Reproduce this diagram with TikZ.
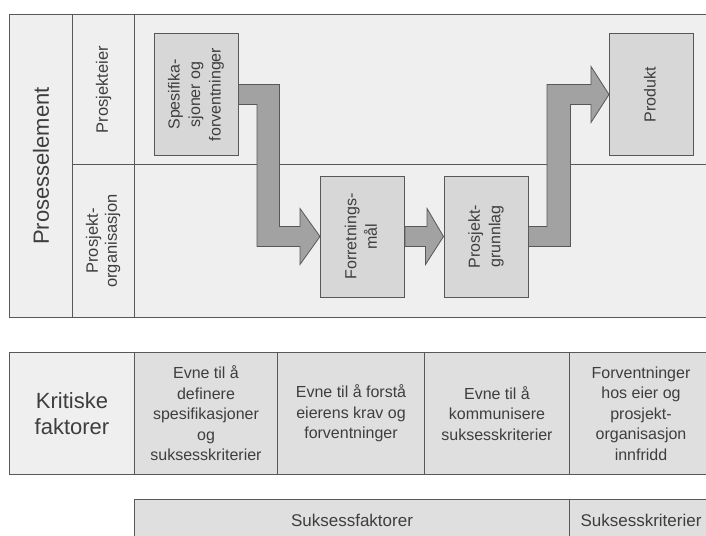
\documentclass[tikz,border=0pt]{standalone}
\usepackage{fontspec}
\setmainfont{Liberation Sans}
\usetikzlibrary{calc}

\definecolor{linegray}{RGB}{88,88,88}
\definecolor{textgray}{RGB}{62,62,62}
\definecolor{lanefill}{RGB}{239,239,239}
\definecolor{cellfill}{RGB}{223,223,223}
\definecolor{boxfill}{RGB}{215,215,215}
\definecolor{arrowfill}{RGB}{162,162,162}

\newcommand{\vlines}[1]{\rotatebox{90}{\begin{tabular}{@{}c@{}}#1\end{tabular}}}

\tikzset{every picture/.style={line width=1pt}}
\tikzset{
  cell/.style={draw=linegray, fill=lanefill, inner sep=0pt, anchor=north west, text=textgray, align=center},
  bigtext/.style={font=\fontsize{22}{26}\selectfont},
  smalltext/.style={font=\fontsize{16}{20.5}\selectfont},
  stepbox/.style={draw=linegray, fill=boxfill, inner sep=0pt, minimum width=84, minimum height=121, text=textgray, font=\fontsize{16}{20.5}\selectfont},
  blockarrow/.style={draw=linegray, line width=0.8pt, fill=arrowfill, line join=miter},
}

\begin{document}
\begin{tikzpicture}[x=1pt,y=1pt,yscale=-1,xscale=1]
\useasboundingbox (0,0) rectangle (706,535);
\clip (0,0) rectangle (706,535);

% Prosesselement table
\node[cell, bigtext, minimum width=63, minimum height=303] (pe) at (9,14) {\rotatebox{90}{Prosesselement}};
\node[cell, font=\fontsize{16.5}{19}\selectfont, minimum width=62, minimum height=150] (eier) at (72,14) {\rotatebox{90}{Prosjekteier}};
\node[cell, font=\fontsize{16.5}{19}\selectfont, minimum width=62, minimum height=153] (org) at (72,164) {\vlines{Prosjekt-\\organisasjon}};
\node[cell, minimum width=578, minimum height=150] (lane1) at (134,14) {};
\node[cell, minimum width=578, minimum height=153] (lane2) at (134,164) {};

% process steps
\node[stepbox] (spes) at (196,94.5) {\vlines{Spesifika-\\sjoner og\\forventninger}};
\node[stepbox] (forr) at (362.5,236.5) {\vlines{Forretnings-\\mål}};
\node[stepbox] (pgr) at (486,236.5) {\vlines{Prosjekt-\\grunnlag}};
\node[stepbox] (prod) at (651.5,94.5) {\vlines{Produkt}};

% block arrows
\draw[blockarrow] ($(spes.east)+(0,-10)$) -- ++(41,0) |- ($(forr.west)+(-20,-10)$) -- ++(0,-18) -- (forr.west) -- ++(-20,28) -- ++(0,-18) -- ++(-43,0) |- ($(spes.east)+(0,10)$) -- cycle;
\draw[blockarrow] ($(forr.east)+(0,-10)$) -- ++(22,0) -- ++(0,-18) -- (pgr.west) -- ++(-18,28) -- ++(0,-18) -- ($(forr.east)+(0,10)$) -- cycle;
\draw[blockarrow] ($(pgr.east)+(0,10)$) -- ++(42,0) |- ($(prod.west)+(-18,10)$) -- ++(0,18) -- (prod.west) -- ++(-18,-28) -- ++(0,18) -- ++(-44,0) |- ($(pgr.east)+(0,-10)$) -- cycle;

% Kritiske faktorer
\node[cell, bigtext, minimum width=125, minimum height=122] (kf) at (9,352) {Kritiske\\faktorer};
\node[cell, smalltext, fill=cellfill, minimum width=143, minimum height=122] (c1) at (134,352) {Evne til å\\definere\\spesifikasjoner\\og\\suksesskriterier};
\node[cell, smalltext, fill=cellfill, minimum width=147, minimum height=122] (c2) at (277,352) {Evne til å forstå\\eierens krav og\\forventninger};
\node[cell, smalltext, fill=cellfill, minimum width=145, minimum height=122] (c3) at (424,352) {Evne til å\\kommunisere\\suksesskriterier};
\node[cell, smalltext, fill=cellfill, minimum width=143, minimum height=122] (c4) at (569,352) {Forventninger\\hos eier og\\prosjekt-\\organisasjon\\innfridd};

% bottom strip
\node[cell, font=\fontsize{17}{20}\selectfont, fill=cellfill, minimum width=435, minimum height=42] (sf) at (134,499) {Suksessfaktorer};
\node[cell, font=\fontsize{17}{20}\selectfont, fill=cellfill, minimum width=143, minimum height=42] (sk) at (569,499) {Suksesskriterier};

\end{tikzpicture}
\end{document}
